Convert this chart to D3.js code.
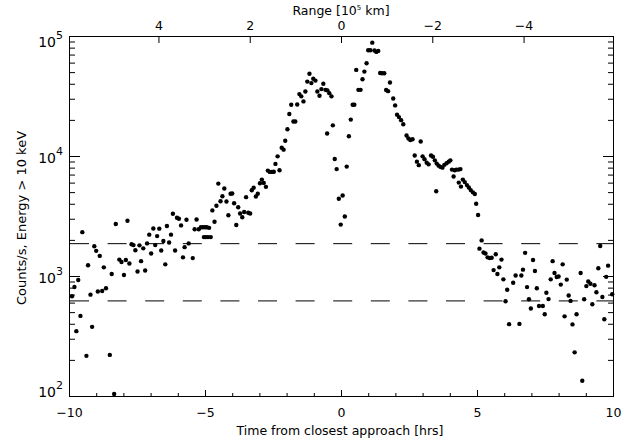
<!DOCTYPE html>
<html lang="en">
<head>
<meta charset="UTF-8">
<title>Counts vs time from closest approach</title>
<script src="https://d3js.org/d3.v7.min.js"></script>
<style>
  body { margin: 0; background: #fff; }
  svg { display: block; font-family: "DejaVu Sans", sans-serif; }
</style>
</head>
<body>
<div id="container"></div>
<script>
// time from closest approach [hrs]
const timeHrs = [
  -9.89, -9.80, -9.73, -9.66, -9.58, -9.51, -9.36, -9.30, -9.21, -9.15,
  -9.07, -9.00, -8.94, -8.87, -8.78, -8.72, -8.64, -8.50, -8.43, -8.34,
  -8.28, -8.15, -8.07, -7.98, -7.91, -7.85, -7.78, -7.70, -7.63, -7.56,
  -7.48, -7.41, -7.35, -7.27, -7.20, -7.13, -7.05, -6.98, -6.90, -6.83,
  -6.76, -6.68, -6.61, -6.53, -6.46, -6.40, -6.32, -6.25, -6.18, -6.10,
  -6.03, -5.96, -5.88, -5.81, -5.75, -5.68, -5.60, -5.45, -5.38, -5.31,
  -5.23, -5.15, -5.08, -5.04, -5.00, -4.97, -4.93, -4.89, -4.85, -4.79,
  -4.73, -4.65, -4.58, -4.51, -4.43, -4.36, -4.29, -4.21, -4.14, -4.06,
  -4.00, -3.93, -3.85, -3.78, -3.71, -3.63, -3.56, -3.49, -3.41, -3.34,
  -3.28, -3.21, -3.13, -3.06, -2.98, -2.91, -2.84, -2.76, -2.69, -2.62,
  -2.54, -2.47, -2.41, -2.33, -2.26, -2.18, -2.11, -2.05, -1.97, -1.90,
  -1.83, -1.75, -1.68, -1.61, -1.53, -1.46, -1.38, -1.31, -1.24, -1.16,
  -1.09, -1.02, -0.94, -0.87, -0.79, -0.72, -0.65, -0.57, -0.51, -0.50,
  -0.43, -0.35, -0.30, -0.23, -0.16, -0.08, -0.01, 0.06, 0.14, 0.21,
  0.29, 0.36, 0.43, 0.49, 0.56, 0.64, 0.72, 0.79, 0.86, 0.94,
  1.00, 1.08, 1.15, 1.23, 1.30, 1.37, 1.44, 1.51, 1.59, 1.66,
  1.73, 1.80, 1.92, 1.99, 2.06, 2.13, 2.21, 2.29, 2.41, 2.48,
  2.55, 2.63, 2.71, 2.79, 2.86, 2.93, 3.00, 3.07, 3.15, 3.22,
  3.31, 3.38, 3.45, 3.50, 3.52, 3.59, 3.66, 3.73, 3.80, 3.88,
  3.96, 4.02, 4.08, 4.14, 4.18, 4.24, 4.32, 4.33, 4.39, 4.41,
  4.48, 4.55, 4.63, 4.70, 4.77, 4.85, 4.92, 4.97, 5.04, 5.09,
  5.17, 5.24, 5.31, 5.39, 5.47, 5.54, 5.61, 5.69, 5.75, 5.82,
  5.90, 5.97, 6.05, 6.11, 6.18, 6.33, 6.42, 6.56, 6.63, 6.69,
  6.77, 6.84, 6.91, 6.98, 7.06, 7.13, 7.20, 7.28, 7.42, 7.49,
  7.55, 7.63, 7.71, 7.78, 7.85, 7.93, 8.00, 8.08, 8.15, 8.22,
  8.30, 8.37, 8.44, 8.51, 8.59, 8.66, 8.81, 8.87, 8.94, 9.02,
  9.09, 9.17, 9.24, 9.32, 9.39, 9.46, 9.53, 9.61, 9.68, 9.75,
  9.82, 9.97
];

// counts/s, energy > 10 keV
const counts = [
  678, 810, 347, 926, 465, 2320, 216, 1230, 699, 377,
  1770, 1620, 742, 1470, 750, 1180, 790, 220, 1040, 104,
  2710, 1370, 1310, 1020, 1360, 2890, 1270, 1840, 1810, 1640,
  1090, 1800, 1330, 1700, 1110, 1870, 2210, 1540, 2490, 1810,
  2150, 2480, 1630, 1960, 1250, 2610, 1900, 2210, 3300, 1630,
  3060, 3000, 2640, 1430, 1740, 2940, 1870, 1410, 2450, 2960,
  2450, 2550, 2550, 2110, 2550, 2110, 2550, 2110, 2520, 2110,
  3520, 2830, 3850, 5890, 4200, 4620, 5360, 4180, 3210, 4840,
  4870, 4040, 2660, 3740, 3320, 3090, 3410, 4540, 3370, 3320,
  5190, 5430, 4600, 4840, 5930, 6360, 5970, 5530, 7560, 7370,
  7370, 7400, 8590, 9930, 7600, 11700, 11300, 13400, 16700, 22400,
  26700, 19400, 19400, 26900, 32800, 31400, 28500, 34500, 41700, 48400,
  40500, 44000, 42500, 34500, 31800, 36100, 40000, 35600, 15400, 35200,
  33400, 31400, 18000, 9440, 7780, 4400, 2680, 4680, 3130, 8160,
  14600, 20100, 26700, 26700, 52200, 35600, 35600, 43600, 50500, 59300,
  76100, 76100, 88000, 75800, 73700, 75100, 49100, 49000, 49000, 35500,
  34700, 41000, 30100, 26400, 22100, 21100, 19900, 18400, 14800, 14000,
  13600, 13800, 10100, 8970, 8390, 13200, 9930, 9410, 8800, 8520,
  10100, 9870, 9200, 5090, 8640, 8310, 8110, 8000, 8440, 8690,
  8970, 9200, 7700, 6740, 7600, 7700, 7700, 6000, 7780, 5560,
  6360, 6060, 5720, 5460, 5200, 4980, 4820, 4000, 3220, 1690,
  1980, 1570, 1540, 1430, 1410, 1420, 1120, 1520, 1040, 1180,
  1370, 938, 616, 768, 397, 878, 1010, 399, 1010, 1130,
  1560, 808, 640, 536, 1360, 1100, 790, 563, 563, 480,
  725, 642, 938, 1330, 1060, 980, 990, 848, 1250, 461,
  933, 687, 620, 395, 231, 480, 1060, 134, 640, 824,
  900, 861, 582, 837, 732, 1160, 1780, 669, 436, 984,
  1220, 704
];

// background levels (dashed lines)
const levels = [1860, 620];

const timeTicks = [-10, -5, 0, 5, 10];
const rangeTicks = [4, 2, 0, -2, -4];
const rangeDomain = [5.96, -5.96]; // range [10^5 km] at left / right edge
const decadeTicks = [100, 1000, 10000, 100000];

const W = 636, H = 443;
const m = { left: 69, right: 613, top: 36, bottom: 396 };

const svg = d3.select("#container")
  .append("svg")
  .attr("width", W)
  .attr("height", H);

const x = d3.scaleLinear().domain([-10, 10]).range([m.left, m.right]);
const xTop = d3.scaleLinear().domain(rangeDomain).range([m.left, m.right]);
const y = d3.scaleLog().domain([100, 100000]).range([m.bottom, m.top]);

const minorTime = d3.range(-10, 11, 1);
const minorCounts = [];
decadeTicks.slice(0, -1).forEach(d => {
  for (let k = 2; k <= 9; k++) minorCounts.push(d * k);
});

function style(g, size) {
  g.attr("font-family", "DejaVu Sans, sans-serif").attr("font-size", size);
  g.select(".domain").remove();
  g.selectAll(".tick line").attr("stroke", "#000");
  g.selectAll(".tick text").attr("fill", "#000");
}

// bottom axis
svg.append("g")
  .attr("transform", "translate(0," + m.bottom + ")")
  .call(d3.axisBottom(x).tickValues(timeTicks).tickSizeInner(-6).tickSizeOuter(0).tickPadding(12))
  .call(g => style(g, 12.5));

svg.append("g")
  .attr("transform", "translate(0," + m.bottom + ")")
  .call(d3.axisBottom(x).tickValues(minorTime).tickSize(-3).tickFormat(""))
  .call(g => style(g, 10));

// top axis (range)
svg.append("g")
  .attr("transform", "translate(0," + m.top + ")")
  .call(d3.axisTop(xTop).tickValues(rangeTicks).tickSizeInner(-7).tickSizeOuter(0).tickPadding(6))
  .call(g => style(g, 12.5));

// left axis
const leftAxis = svg.append("g")
  .attr("transform", "translate(" + m.left + ",0)")
  .call(d3.axisLeft(y).tickValues(decadeTicks).tickSizeInner(-11).tickSizeOuter(0).tickFormat(""))
  .call(g => style(g, 14));

svg.append("g")
  .attr("transform", "translate(" + m.left + ",0)")
  .call(d3.axisLeft(y).tickValues(minorCounts).tickSize(-6).tickFormat(""))
  .call(g => style(g, 10));

const lbl = leftAxis.selectAll(".tick")
  .append("text")
  .attr("x", -6)
  .attr("y", d => d === 100000 ? 10.5 : (d === 100 ? 0.5 : 6.5))
  .attr("text-anchor", "end")
  .attr("fill", "#000");
lbl.append("tspan").attr("font-size", 14).text("10");
lbl.append("tspan").attr("font-size", 11).attr("dy", -8)
  .text(d => Math.round(Math.log10(d)));

// right axis
svg.append("g")
  .attr("transform", "translate(" + m.right + ",0)")
  .call(d3.axisRight(y).tickValues(decadeTicks).tickSizeInner(-10).tickSizeOuter(0).tickFormat(""))
  .call(g => style(g, 10));

svg.append("g")
  .attr("transform", "translate(" + m.right + ",0)")
  .call(d3.axisRight(y).tickValues(minorCounts).tickSize(-5).tickFormat(""))
  .call(g => style(g, 10));

// frame
svg.append("rect")
  .attr("x", m.left + 0.5)
  .attr("y", m.top + 0.5)
  .attr("width", m.right - m.left)
  .attr("height", m.bottom - m.top)
  .attr("fill", "none")
  .attr("stroke", "#000");

// dashed background levels
svg.selectAll(".level")
  .data(levels)
  .join("line")
  .attr("class", "level")
  .attr("x1", x(-10) + 1)
  .attr("x2", x(10))
  .attr("y1", d => y(d))
  .attr("y2", d => y(d))
  .attr("stroke", "#000")
  .attr("stroke-width", 1)
  .attr("stroke-dasharray", "19,18.6");

// data points
const points = timeHrs.map((t, i) => ({ t: t, c: counts[i] }));
svg.append("g")
  .selectAll("circle")
  .data(points)
  .join("circle")
  .attr("cx", d => x(d.t))
  .attr("cy", d => y(d.c))
  .attr("r", 2.2)
  .attr("fill", "#000");

// titles
const rangeTitle = svg.append("text")
  .attr("x", 341)
  .attr("y", 14.5)
  .attr("text-anchor", "middle")
  .attr("font-size", 12.5)
  .attr("fill", "#000");
rangeTitle.append("tspan").text("Range [10");
rangeTitle.append("tspan").attr("font-size", 7).attr("dy", -5).text("5");
rangeTitle.append("tspan").attr("dy", 5).text(" km]");

svg.append("text")
  .attr("x", 340)
  .attr("y", 435)
  .attr("text-anchor", "middle")
  .attr("font-size", 12.5)
  .attr("fill", "#000")
  .text("Time from closest approach [hrs]");

svg.append("text")
  .attr("transform", "translate(26,218) rotate(-90)")
  .attr("text-anchor", "middle")
  .attr("font-size", 13)
  .attr("fill", "#000")
  .text("Counts/s, Energy > 10 keV");
</script>
</body>
</html>
